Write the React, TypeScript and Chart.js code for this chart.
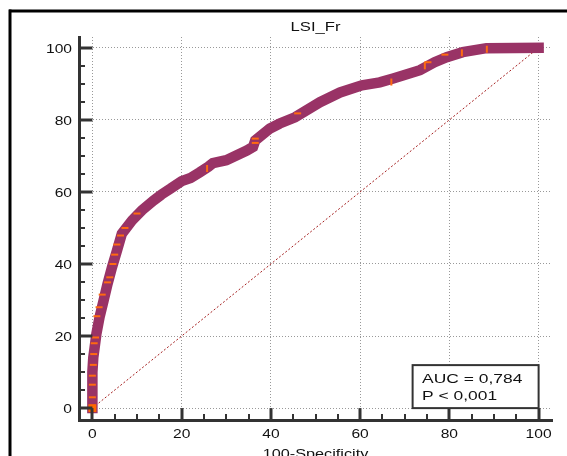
import React, { useEffect, useRef } from "react";
import { Chart, registerables } from "chart.js";

Chart.register(...registerables);

const chartTitle = "LSI_Fr";
const xAxisTitle = "100-Specificity";
const aucLines = ["AUC = 0,784", "P < 0,001"];
const tickValues = [0, 20, 40, 60, 80, 100];
const minorStep = 5;

const rocX = [0, 0, 0.2, 0.5, 0.9, 1.6, 2.5, 3.4, 4.4, 5.5, 6.6, 8.9, 11.1, 13.7, 15.5, 17.5, 20, 22, 24, 26, 27, 30, 34.6, 36, 36.5, 39.8, 42, 45.4, 51, 55.5, 60.4, 64.4, 67.4, 73.4, 76.7, 79.4, 83, 88.3, 100];
const rocY = [0, 10, 14, 16.8, 20.6, 25.2, 29.8, 34.5, 39.1, 43.7, 48.4, 52.1, 54.9, 57.6, 59.3, 60.9, 63.0, 63.9, 65.4, 67, 68, 68.8, 71.5, 72.5, 74.3, 77.6, 79, 80.7, 84.9, 87.6, 89.6, 90.4, 91.5, 93.8, 96, 97.4, 98.8, 99.9, 100];

const markX = [0, 0, 0, 0.2, 0.3, 0.4, 0.7, 1.0, 1.5, 2.2, 3.4, 3.9, 4.6, 5.0, 5.5, 6.3, 7.3, 10, 25.7, 36.5, 36.5, 46, 67, 75.2, 74.5, 79, 82.8, 88.4];
const markY = [3, 6.5, 9, 12, 15, 18, 19.6, 25.5, 28, 31.5, 34.9, 36.3, 40, 42.6, 45.4, 47.9, 50, 54, 66.5, 74.8, 73.6, 81.8, 90.5, 96, 95, 98.1, 98.6, 99.6];
const markRot = [0, 0, 0, 0, 0, 0, 0, 0, 0, 0, 0, 0, 0, 0, 0, 0, 0, 0, 90, 0, 0, 0, 90, 0, 90, 0, 90, 90];

const diagX = [0, 100];
const diagY = [0, 100];

const FONT = '13px "Liberation Sans", Arial, sans-serif';

function stretchText(ctx: CanvasRenderingContext2D, s: string, x: number, y: number, align: CanvasTextAlign, sx: number) {
  ctx.save();
  ctx.translate(x, y);
  ctx.scale(sx, 1);
  ctx.textAlign = align;
  ctx.textBaseline = "alphabetic";
  ctx.fillText(s, 0, 0);
  ctx.restore();
}

const decoPlugin = {
  id: "deco",
  afterDraw(chart: any) {
    const ctx: CanvasRenderingContext2D = chart.ctx;
    const xs = chart.scales.x;
    const ys = chart.scales.y;
    const area = chart.chartArea;
    ctx.save();
    // outer frame: only its top and left edges fall inside the picture
    ctx.fillStyle = "#000";
    ctx.fillRect(9, 9.5, 558, 3);
    ctx.fillRect(8.5, 9.5, 3, 447);

    ctx.strokeStyle = "#333";
    for (let v = 0; v <= 100; v += minorStep) {
      const major = v % 20 === 0;
      const px = xs.getPixelForValue(v);
      const py = ys.getPixelForValue(v);
      ctx.lineWidth = major ? 3 : 2;
      const lenX = major ? area.bottom - ys.getPixelForValue(0) : 6;
      const lenY = major ? xs.getPixelForValue(0) - area.left : 6;
      ctx.beginPath();
      ctx.moveTo(Math.round(px), area.bottom);
      ctx.lineTo(Math.round(px), area.bottom - lenX);
      ctx.stroke();
      ctx.beginPath();
      ctx.moveTo(area.left, Math.round(py));
      ctx.lineTo(area.left + lenY, Math.round(py));
      ctx.stroke();
    }

    ctx.fillStyle = "#111";
    ctx.font = FONT;
    for (const v of tickValues) {
      stretchText(ctx, String(v), xs.getPixelForValue(v), 437.5, "center", 1.2);
      stretchText(ctx, String(v), 72, ys.getPixelForValue(v) + 4.7, "right", 1.2);
    }
    const cx = (area.left + area.right) / 2;
    stretchText(ctx, chartTitle, cx, 31, "center", 1.28);
    stretchText(ctx, xAxisTitle, cx, 457.5, "center", 1.25);

    const right = xs.getPixelForValue(100);
    const bottom = ys.getPixelForValue(0);
    const bw = 126;
    const bh = 43;
    ctx.fillStyle = "#fff";
    ctx.fillRect(right - bw, bottom - bh, bw, bh);
    ctx.strokeStyle = "#333";
    ctx.lineWidth = 2;
    ctx.strokeRect(right - bw, bottom - bh, bw, bh);
    ctx.fillStyle = "#111";
    stretchText(ctx, aucLines[0], right - bw + 9.5, bottom - 25.5, "left", 1.34);
    stretchText(ctx, aucLines[1], right - bw + 9.5, bottom - 8.5, "left", 1.34);
    ctx.restore();
  },
};

export default function App() {
  const ref = useRef<HTMLCanvasElement | null>(null);
  useEffect(() => {
    if (!ref.current) return;
    const chart = new Chart(ref.current, {
      type: "scatter",
      data: {
        datasets: [
          {
            label: "origin",
            data: [{ x: 0, y: 0 }],
            pointStyle: "rect",
            pointRadius: 5.6,
            pointBackgroundColor: "#ff6600",
            pointBorderWidth: 0,
            showLine: false,
            order: 0,
          },
          {
            label: "marks",
            data: markX.map((x, i) => ({ x, y: markY[i] })),
            pointStyle: "line",
            pointRadius: 3.5,
            pointBorderWidth: 2,
            pointBorderColor: "#ff6a10",
            pointRotation: markRot,
            showLine: false,
            order: 1,
          },
          {
            label: "roc",
            data: rocX.map((x, i) => ({ x, y: rocY[i] })),
            showLine: true,
            borderColor: "#993366",
            borderWidth: 10.5,
            borderCapStyle: "square",
            borderJoinStyle: "miter",
            pointRadius: 0,
            tension: 0,
            order: 2,
          },
          {
            label: "diag",
            data: diagX.map((x, i) => ({ x, y: diagY[i] })),
            showLine: true,
            borderColor: "#a52020",
            borderWidth: 1,
            borderDash: [2, 2],
            pointRadius: 0,
            order: 3,
          },
        ],
      },
      options: {
        responsive: false,
        animation: false,
        devicePixelRatio: 1,
        layout: { padding: { left: 79, top: 37, right: 15, bottom: 36 } },
        plugins: { legend: { display: false }, tooltip: { enabled: false }, title: { display: false } },
        scales: {
          x: {
            type: "linear",
            min: -3,
            max: 103,
            afterBuildTicks: (axis: any) => {
              axis.ticks = tickValues.map((v) => ({ value: v }));
            },
            ticks: { display: false },
            grid: { color: "#999", lineWidth: 1, drawTicks: false },
            border: { display: true, color: "#333", width: 3, dash: [1, 2] },
          },
          y: {
            type: "linear",
            min: -3.3,
            max: 103,
            afterBuildTicks: (axis: any) => {
              axis.ticks = tickValues.map((v) => ({ value: v }));
            },
            ticks: { display: false },
            grid: { color: "#999", lineWidth: 1, drawTicks: false },
            border: { display: true, color: "#333", width: 3, dash: [1, 2] },
          },
        },
      } as any,
      plugins: [decoPlugin],
    });
    return () => chart.destroy();
  }, []);
  return (
    <div style={{ position: "fixed", left: 0, top: 0, width: 567, height: 456, background: "#fff" }}>
      <canvas ref={ref} width={567} height={456} style={{ display: "block" }} />
    </div>
  );
}
